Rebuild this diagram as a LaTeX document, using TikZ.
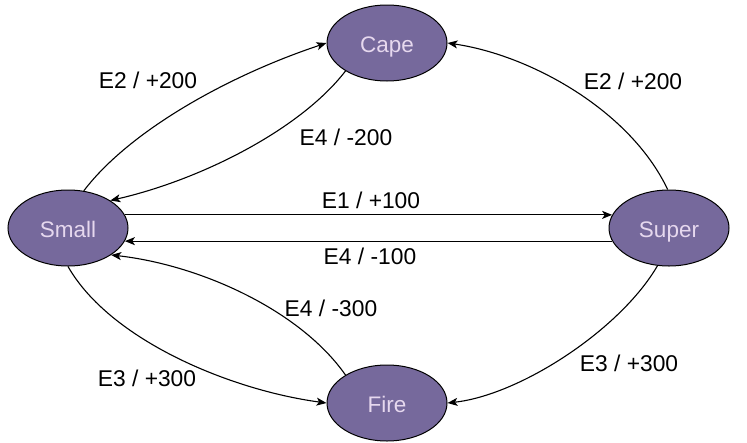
\documentclass[tikz,border=0pt]{standalone}
\usepackage{fontspec}
\setmainfont{Liberation Sans}
\usetikzlibrary{arrows.meta,shapes.geometric}
\definecolor{nodefill}{HTML}{76699C}
\definecolor{nodetext}{HTML}{E6D8EE}
\begin{document}
\begin{tikzpicture}[x=1pt,y=-1pt,
  state/.style={ellipse, draw=black, line width=1pt, fill=nodefill, text=nodetext,
    minimum width=120pt, minimum height=76pt, inner sep=0pt, text height=18pt, text depth=0pt,
    font=\fontsize{22.5}{26}\selectfont},
  edge/.style={line width=1.1pt, -{Stealth[length=10pt,width=8pt,inset=2.5pt]}},
  lbl/.style={font=\fontsize{22.8}{26}\selectfont, inner sep=0pt, text=black}]
\useasboundingbox (0,0) rectangle (747,442);
\node[state] (Cape)  at (387,43)  {Cape};
\node[state] (Small) at (68,228)  {Small};
\node[state] (Super) at (669,228) {Super};
\node[state] (Fire)  at (387,403) {Fire};

% Small -> Cape
\draw[edge] (Small.67) .. controls (130,130) and (230,75) .. (Cape.180);
% Cape -> Small
\draw[edge] (Cape.214) .. controls (300,130) and (200,180) .. (Small.33);
% Small -> Super
\draw[edge] (Small.13) -- (Super.167);
% Super -> Small
\draw[edge] (Super.193) -- (Small.-13);
% Super -> Cape
\draw[edge] (Super.92) .. controls (630,110) and (530,55) .. (Cape.0);
% Super -> Fire
\draw[edge] (Super.253) .. controls (620,330) and (520,395) .. (Fire.0);
% Small -> Fire
\draw[edge] (Small.270) .. controls (110,340) and (230,390) .. (Fire.180);
% Fire -> Small
\draw[edge] (Fire.146) .. controls (300,310) and (200,265) .. (Small.-32);

\node[lbl] (l1) at (148,80)  {E2 / +200};
\node[lbl] (l2) at (346,137) {E4 / -200};
\node[lbl] (l3) at (371,200) {E1 / +100};
\node[lbl] (l4) at (370,256) {E4 / -100};
\node[lbl] (l5) at (633,81)  {E2 / +200};
\node[lbl] (l6) at (629,363) {E3 / +300};
\node[lbl] (l7) at (147,378) {E3 / +300};
\node[lbl] (l8) at (331,308) {E4 / -300};
\end{tikzpicture}
\end{document}
